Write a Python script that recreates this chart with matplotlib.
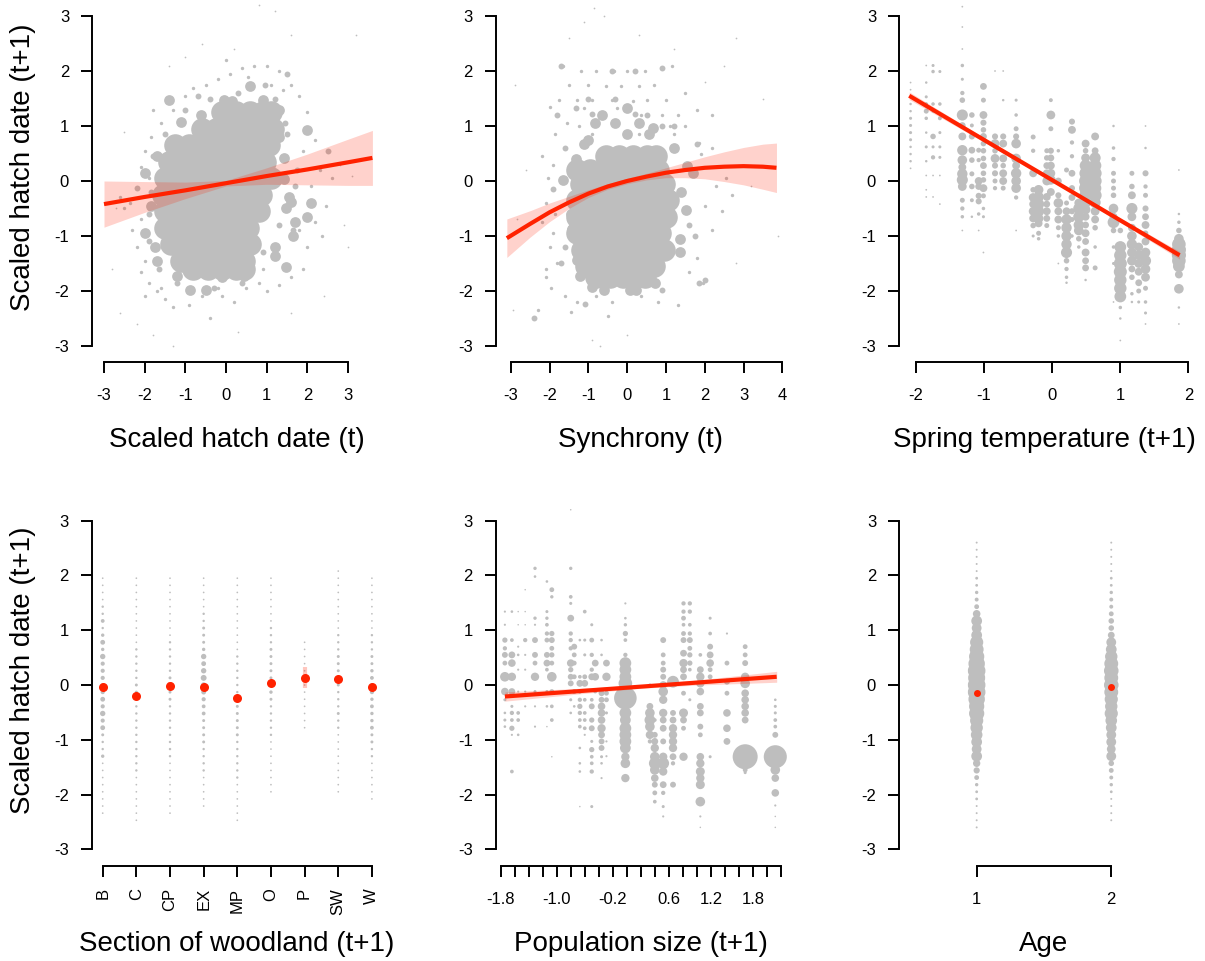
import numpy as np
import matplotlib
matplotlib.use('Agg')
import matplotlib.pyplot as plt

plt.rcParams['font.family'] = ['Liberation Sans', 'DejaVu Sans']

GREY = '#BEBEBE'
RED = '#FF2200'

# ---------------- panel A: hatch date (t) ----------------
a_core = [(-0.1, 1.25), (0.25, 1.25), (0.6, 1.25), (0.9, 1.25), (1.1, 1.25),
          (-0.6, 0.95), (-0.25, 0.95), (0.1, 0.95), (0.45, 0.95), (0.8, 0.95), (1.15, 0.95),
          (-1.25, 0.65), (-0.9, 0.65), (-0.55, 0.65), (-0.2, 0.65), (0.15, 0.65), (0.5, 0.65), (0.8, 0.65), (1.05, 0.65),
          (-1.4, 0.35), (-1.05, 0.35), (-0.7, 0.35), (-0.35, 0.35), (0.0, 0.35), (0.35, 0.35), (0.7, 0.35), (0.95, 0.35),
          (-1.5, 0.05), (-1.15, 0.05), (-0.8, 0.05), (-0.45, 0.05), (-0.1, 0.05), (0.25, 0.05), (0.6, 0.05), (0.95, 0.05), (1.1, 0.05),
          (-1.55, -0.25), (-1.2, -0.25), (-0.85, -0.25), (-0.5, -0.25), (-0.15, -0.25), (0.2, -0.25), (0.55, -0.25), (0.85, -0.25),
          (-1.5, -0.55), (-1.15, -0.55), (-0.8, -0.55), (-0.45, -0.55), (-0.1, -0.55), (0.25, -0.55), (0.55, -0.55), (0.8, -0.55),
          (-1.5, -0.85), (-1.15, -0.85), (-0.8, -0.85), (-0.45, -0.85), (-0.1, -0.85), (0.25, -0.85), (0.55, -0.85),
          (-1.35, -1.15), (-1.0, -1.15), (-0.65, -1.15), (-0.3, -1.15), (0.05, -1.15), (0.4, -1.15), (0.6, -1.15),
          (-1.1, -1.45), (-0.75, -1.45), (-0.4, -1.45), (-0.05, -1.45), (0.3, -1.45), (0.45, -1.45),
          (-0.8, -1.6), (-0.45, -1.6), (-0.1, -1.6), (0.25, -1.6), (0.45, -1.6)]
a_mid = [(-1.99, 0.14), (-1.99, -0.94), (1.98, -0.65), (2.1, -0.4), (1.6, -0.38), (1.47, -0.5),
         (1.2, -1.37), (1.98, 0.93), (1.43, 0.42), (1.43, 0.03), (-1.1, 1.08), (-1.39, 1.48),
         (-0.88, -1.98), (-0.48, -1.98), (-0.09, -1.75), (0.44, -1.72), (-1.7, -1.45), (-1.2, -1.72),
         (1.2, -1.2), (1.47, -1.57), (0.6, 1.72), (-0.05, 1.48), (-0.62, 1.2), (0.9, 1.48), (1.3, 1.3),
         (1.55, -0.3), (-1.85, -0.45), (-1.7, 0.45), (1.3, 0.8), (-1.75, -1.2), (1.7, -0.75),
         (0.15, 1.45), (1.65, -1.0)]
a_small = [(-1.8, 0.45), (-1.85, -0.2), (-1.9, -0.6), (-1.9, -1.1), (-1.65, -1.6), (-1.2, -1.85),
           (0.4, -1.85), (0.9, -1.3), (1.3, -0.8), (1.65, -0.9), (1.5, 0.85), (1.45, 1.05), (1.2, 1.5),
           (0.3, 1.6), (-0.4, 1.5), (-1.0, 1.3), (-1.5, 0.85), (1.75, 0.2), (1.7, -0.1), (-0.3, -1.95),
           (-0.7, 1.55), (0.95, 1.75), (2.5, 0.55), (1.5, 1.95), (-2.2, -0.12)]
a_dots = [(-2.35, -0.4), (-2.5, -0.5), (-2.1, -0.7), (-2.3, -0.9), (-2.2, -1.2), (-2.0, -1.45),
          (-2.1, -1.65), (-1.9, -1.85), (-1.7, -2.0), (-1.5, -2.15), (-1.3, -2.3), (-0.9, -2.25),
          (-0.6, -2.1), (-0.4, -2.5), (-0.1, -2.1), (0.2, -2.2), (0.5, -1.95), (0.8, -1.85), (1.0, -2.0),
          (1.3, -1.9), (1.6, -1.75), (1.9, -1.6), (2.0, -1.2), (2.2, -0.75), (2.45, -0.45), (2.6, 0.05),
          (2.3, 0.2), (2.2, 0.75), (2.0, 1.25), (1.8, 1.55), (1.6, 1.75), (1.3, 2.0), (1.0, 2.1),
          (0.7, 2.1), (0.4, 2.05), (0.1, 1.95), (-0.2, 1.85), (-0.5, 1.75), (-0.8, 1.7), (-1.0, 1.55),
          (-1.3, 1.3), (-1.6, 1.05), (-1.85, 0.8), (-2.0, 0.55), (-2.1, 0.25), (-1.9, 0.05), (-1.8, 1.3),
          (-2.0, -2.1), (0.0, 2.2), (0.55, 1.9), (1.1, 1.75), (1.9, 0.55), (2.1, -0.1), (1.8, -0.9),
          (-1.6, -1.95), (-0.2, -1.95), (0.9, -1.6), (1.4, 1.65), (-2.6, -0.3), (2.35, -1.0)]
a_tiny = [(-2.8, -1.6), (-2.7, -0.5), (-2.6, -2.4), (-2.2, -2.6), (-1.8, -2.8), (-1.3, -3.0),
          (0.3, -2.75), (1.6, -2.4), (2.4, -2.1), (3.0, -1.2), (3.1, 0.1), (3.2, 2.65), (1.6, 2.65),
          (1.2, 3.1), (0.8, 3.2), (0.2, 2.4), (-0.6, 2.5), (2.8, 0.3), (-2.5, 0.9), (2.9, -0.8),
          (-1.4, 2.1), (-1.0, 2.25)]
a_fit_x = [-3.0, -2.0, -1.0, 0.0, 1.0, 2.0, 3.0, 3.6]
a_fit_y = [-0.42, -0.29, -0.17, -0.04, 0.09, 0.21, 0.34, 0.42]
a_fit_lo = [-0.84, -0.57, -0.32, -0.09, -0.06, -0.07, -0.08, -0.08]
a_fit_hi = [0.0, -0.01, -0.02, 0.01, 0.24, 0.49, 0.76, 0.92]

# ---------------- panel B: synchrony (t) ----------------
b_core = [(-0.55, 0.45), (-0.2, 0.45), (0.15, 0.45), (0.5, 0.45), (0.75, 0.45),
          (-1.3, 0.2), (-0.95, 0.2), (-0.6, 0.2), (-0.25, 0.2), (0.1, 0.2), (0.45, 0.2), (0.8, 0.2),
          (-1.2, -0.05), (-0.85, -0.05), (-0.5, -0.05), (-0.15, -0.05), (0.2, -0.05), (0.55, -0.05), (0.95, -0.05),
          (-1.3, -0.35), (-0.95, -0.35), (-0.6, -0.35), (-0.25, -0.35), (0.1, -0.35), (0.45, -0.35), (0.8, -0.35), (1.05, -0.35),
          (-1.3, -0.65), (-0.95, -0.65), (-0.6, -0.65), (-0.25, -0.65), (0.1, -0.65), (0.45, -0.65), (0.8, -0.65), (1.0, -0.65),
          (-1.3, -0.95), (-0.95, -0.95), (-0.6, -0.95), (-0.25, -0.95), (0.1, -0.95), (0.45, -0.95), (0.85, -0.95),
          (-1.15, -1.25), (-0.8, -1.25), (-0.45, -1.25), (-0.1, -1.25), (0.25, -1.25), (0.6, -1.25), (0.95, -1.25),
          (-1.05, -1.55), (-0.7, -1.55), (-0.35, -1.55), (0.0, -1.55), (0.35, -1.55), (0.7, -1.55),
          (-0.8, -1.75), (-0.45, -1.75), (-0.1, -1.75), (0.25, -1.75), (0.45, -1.75)]
b_mid = [(-0.65, 1.2), (0.0, 1.32), (-0.82, 1.06), (-1.12, 0.68), (0.0, 0.85), (0.56, 0.85),
         (0.67, 0.97), (-1.31, 0.4), (-1.64, 0.02), (-1.42, -0.88), (1.53, -0.52), (1.37, -1.3),
         (1.37, -1.05), (1.7, 0.14), (1.55, 0.27), (-0.59, -1.98), (-0.91, -1.93), (0.08, -1.98),
         (0.24, -1.98), (0.73, -1.85), (-1.22, -1.72), (-1.28, -1.43), (-1.45, -0.6), (1.4, -0.2),
         (1.2, 0.6), (-1.0, 0.75), (-0.3, 1.05), (0.3, 1.05)]
b_small = [(-1.8, 1.2), (-1.31, 1.32), (-1.08, -2.24), (-2.4, -2.5), (0.89, -1.98), (1.85, -1.85),
           (1.8, 0.67), (1.6, -0.8), (1.75, -1.0), (-1.6, -1.2), (-1.7, -1.5), (-1.6, 0.6),
           (-0.3, 1.5), (0.5, 1.2), (-1.0, 1.5), (0.9, 1.0), (0.2, 2.0), (-0.4, 2.0), (2.0, -1.8),
           (-1.7, 2.1), (0.9, 2.05), (-0.9, 1.22), (0.2, 1.22), (1.2, 1.0), (-1.9, -0.15)]
b_dots = [(-1.65, 2.1), (-1.2, 2.0), (-0.8, 2.0), (-0.35, 2.0), (0.0, 2.0), (0.45, 2.0), (1.15, 2.1),
          (-1.5, 1.75), (-1.0, 1.75), (-0.55, 1.72), (-0.15, 1.72), (0.3, 1.72), (0.7, 1.75), (1.5, 1.6),
          (-1.75, 1.48), (-1.3, 1.48), (-0.9, 1.48), (-0.4, 1.48), (0.15, 1.45), (0.5, 1.48), (1.0, 1.48),
          (1.8, 1.3), (-2.0, 1.35), (-1.1, 1.32), (-0.25, 1.32), (0.35, 1.2), (0.9, 1.2), (1.3, 1.2),
          (2.2, 1.2), (-1.55, 1.05), (-1.25, 1.0), (-0.4, 1.05), (0.25, 1.05), (1.1, 1.0), (1.5, 1.0),
          (-1.85, 0.85), (-0.9, 0.85), (0.3, 0.85), (1.2, 0.85), (1.85, 0.7), (2.2, 0.6), (-2.2, 0.45),
          (-1.9, 0.3), (-2.05, 0.05), (-2.1, -0.4), (-1.85, -0.6), (-2.2, -0.75), (-1.9, -0.95),
          (-2.0, -1.2), (-1.8, -1.5), (-2.1, -1.6), (-2.1, -1.75), (-1.95, -1.95), (-1.6, -2.1),
          (-1.3, -2.2), (-0.8, -2.1), (-0.4, -2.2), (0.35, -2.1), (0.8, -2.2), (1.3, -2.25),
          (1.6, -1.65), (1.8, -1.4), (1.95, -1.85), (2.2, -0.9), (2.45, -0.55), (2.0, -0.45),
          (2.3, -0.1), (2.55, 0.05), (2.7, -0.25), (1.9, 0.5), (-2.3, -2.35), (-1.45, -2.38), (-0.5, -2.45)]
b_tiny = [(-2.9, 1.75), (-2.85, -0.7), (-2.95, -2.35), (-1.1, 2.9), (-0.6, 3.0), (-0.85, 3.15),
          (-1.5, 2.6), (0.3, 2.65), (1.2, 2.4), (2.8, 2.6), (2.5, 2.1), (3.5, 1.5), (3.9, -1.0),
          (3.2, -0.1), (2.8, -1.5), (0.0, -2.8), (-0.9, -2.9), (-0.7, -3.0), (2.0, 1.8), (-2.6, 0.2)]
b_fit_x = [-3.1, -2.5, -2.0, -1.5, -1.0, -0.5, 0.0, 0.5, 1.0, 1.5, 2.0, 2.5, 3.0, 3.5, 3.85]
b_fit_y = [-1.04, -0.78, -0.57, -0.39, -0.23, -0.1, 0.0, 0.08, 0.15, 0.2, 0.24, 0.26, 0.27, 0.26, 0.24]
b_fit_half = [0.35, 0.24, 0.17, 0.11, 0.07, 0.05, 0.05, 0.06, 0.09, 0.14, 0.2, 0.27, 0.34, 0.41, 0.45]

# ---------------- panel C: spring temperature (t+1) ----------------
c_cols = [
    (-2.08, [(1.4, 2), (1.27, 2), (1.14, 3), (1.01, 3), (0.88, 3), (0.75, 3), (0.62, 2), (0.49, 2), (0.36, 2), (0.23, 1), (1.66, 1), (1.79, 1)]),
    (-1.85, [(2.1, 1), (1.79, 2), (1.53, 3), (1.4, 4), (1.27, 8), (1.14, 4), (0.88, 2), (0.62, 3), (0.36, 2), (0.1, 1), (-0.16, 1), (-0.29, 1)]),
    (-1.75, [(2.1, 3), (1.99, 4), (1.4, 4), (1.27, 3), (0.81, 10), (0.62, 3), (0.43, 6), (0.1, 1), (-0.29, 1)]),
    (-1.65, [(1.99, 3), (1.4, 4), (1.14, 5), (0.88, 3), (0.62, 3), (0.43, 3), (0.1, 1), (-0.42, 1)]),
    (-1.32, [(3.17, 1), (2.8, 1), (2.4, 1), (2.1, 4), (1.85, 3), (1.6, 6), (1.47, 10), (1.2, 40), (1.01, 14), (0.81, 20),
             (0.56, 35), (0.38, 30), (0.25, 20), (0.13, 35), (0.02, 40), (-0.1, 25), (-0.35, 8), (-0.5, 6), (-0.65, 4), (-0.9, 1)]),
    (-1.18, [(1.2, 10), (1.01, 5), (0.81, 12), (0.56, 15), (0.38, 10), (0.13, 8), (-0.1, 10), (-0.35, 5), (-0.65, 2)]),
    (-1.08, [(0.56, 8), (0.38, 6), (0.0, 20), (-0.1, 15), (-0.27, 12), (-0.37, 12), (-0.6, 4), (-0.9, 1)]),
    (-1.01, [(1.72, 15), (1.47, 8), (1.2, 20), (1.06, 12), (0.93, 10), (0.81, 15), (0.68, 10), (0.55, 10), (0.41, 10),
             (0.28, 15), (0.14, 10), (0.02, 10), (-0.13, 20), (-0.27, 8), (-0.5, 4), (-0.65, 3), (-1.3, 1)]),
    (-0.84, [(2.0, 1), (0.81, 12), (0.68, 25), (0.55, 10), (0.41, 25), (0.28, 12), (0.14, 12), (0.0, 8), (-0.13, 6)]),
    (-0.72, [(2.0, 1), (1.47, 2), (0.81, 12), (0.68, 20), (0.41, 20), (0.28, 10), (0.14, 20), (0.0, 20), (-0.13, 8)]),
    (-0.53, [(1.47, 3), (1.2, 4), (0.95, 8), (0.81, 12), (0.68, 30), (0.41, 30), (0.28, 20), (0.14, 35), (0.0, 30), (-0.13, 30), (-0.3, 6), (-0.9, 1)]),
    (-0.28, [(0.8, 8), (0.55, 6), (0.14, 20), (-0.16, 10), (-0.3, 25), (-0.42, 20), (-0.55, 25), (-0.68, 20), (-0.81, 10), (-1.0, 3)]),
    (-0.2, [(-0.16, 30), (-0.29, 35), (-0.42, 40), (-0.55, 40), (-0.68, 30), (-0.77, 20), (-0.95, 8), (-1.05, 4)]),
    (-0.08, [(0.55, 8), (0.42, 10), (0.28, 15), (0.14, 20), (0.0, 25), (-0.29, 20), (-0.42, 15), (-0.55, 20), (-0.68, 15), (-0.81, 8)]),
    (-0.02, [(1.47, 5), (1.2, 25), (0.95, 8), (0.55, 12), (0.42, 15), (0.28, 20), (0.14, 25), (0.02, 30), (-0.2, 20)]),
    (0.09, [(0.55, 4), (0.0, 15), (-0.26, 12), (-0.4, 30), (-0.55, 20), (-0.7, 20), (-0.85, 8), (-1.0, 4), (-1.5, 1)]),
    (0.21, [(0.2, 8), (-0.4, 8), (-0.55, 20), (-0.7, 35), (-0.85, 35), (-1.0, 35), (-1.15, 35), (-1.3, 40), (-1.45, 10), (-1.6, 6), (-1.75, 4), (-1.85, 2)]),
    (0.29, [(1.08, 12), (0.93, 20), (0.7, 6), (0.45, 6), (0.14, 15), (-0.13, 12), (-0.3, 15), (-0.55, 12), (-0.7, 8), (-1.0, 4)]),
    (0.39, [(-0.4, 25), (-0.5, 40), (-0.65, 40), (-0.8, 35), (-0.9, 30), (-1.05, 10), (-1.2, 4)]),
    (0.49, [(0.68, 20), (0.55, 10), (0.42, 25), (0.28, 45), (0.14, 50), (0.0, 55), (-0.13, 55), (-0.26, 50), (-0.39, 40), (-0.52, 30),
            (-0.65, 20), (-0.8, 15), (-0.95, 20), (-1.1, 15), (-1.3, 20), (-1.45, 15), (-1.58, 15), (-1.8, 2)]),
    (0.63, [(0.81, 20), (0.55, 15), (0.42, 40), (0.28, 50), (0.14, 55), (0.0, 55), (-0.13, 50), (-0.26, 55), (-0.39, 40), (-0.55, 25),
            (-0.7, 20), (-0.85, 10), (-1.2, 4), (-1.58, 8)]),
    (0.9, [(1.0, 2), (0.6, 4), (0.4, 6), (0.14, 8), (0.0, 8), (-0.13, 8), (-0.26, 10), (-0.5, 30), (-0.65, 20), (-0.75, 45), (-0.9, 10), (-1.2, 4), (-1.5, 3), (-2.2, 1)]),
    (1.0, [(-0.9, 10), (-1.2, 45), (-1.35, 50), (-1.5, 55), (-1.65, 55), (-1.8, 50), (-1.95, 50), (-2.1, 45), (-2.3, 4), (-2.5, 2), (-2.9, 1)]),
    (1.17, [(0.14, 8), (-0.1, 10), (-0.26, 20), (-0.5, 40), (-0.65, 25), (-0.85, 20), (-1.0, 30), (-1.15, 35), (-1.3, 30), (-1.45, 30),
            (-1.6, 15), (-1.75, 10), (-2.05, 4), (-2.2, 2)]),
    (1.27, [(-1.2, 25), (-1.35, 30), (-1.5, 25), (-1.65, 20), (-1.85, 15), (-2.0, 8), (-2.2, 3)]),
    (1.37, [(1.0, 1), (0.6, 2), (0.14, 12), (-0.1, 6), (-0.26, 8), (-0.5, 12), (-0.65, 15), (-0.8, 20), (-0.95, 10), (-1.1, 20),
            (-1.3, 30), (-1.45, 40), (-1.6, 30), (-1.75, 25), (-1.95, 8), (-2.2, 4), (-2.4, 3), (-2.6, 1)]),
    (1.86, [(0.2, 1), (-0.6, 2), (-0.75, 4), (-0.9, 10), (-1.05, 30), (-1.15, 60), (-1.25, 65), (-1.35, 65), (-1.45, 60), (-1.55, 45),
            (-1.7, 20), (-1.96, 30), (-2.3, 2), (-2.6, 1)]),
]
c_fit_x = [-2.1, -1.0, 0.0, 1.0, 1.87]
c_fit_y = [1.55, 0.746, 0.016, -0.715, -1.35]
c_fit_half = [0.07, 0.04, 0.025, 0.04, 0.07]

# ---------------- panel D: section of woodland ----------------
levels = [-2.6, -2.47, -2.34, -2.21, -2.08, -1.95, -1.82, -1.69, -1.56, -1.43, -1.3, -1.17, -1.04, -0.91,
          -0.78, -0.65, -0.52, -0.39, -0.26, -0.13, 0.0, 0.13, 0.26, 0.39, 0.52, 0.65, 0.78, 0.91, 1.04,
          1.17, 1.3, 1.43, 1.56, 1.69, 1.82, 1.95, 2.08, 2.21, 2.34, 2.47, 2.6]
sections = ['B', 'C', 'CP', 'EX', 'MP', 'O', 'P', 'SW', 'W']
section_counts = [
    [0, 0, 1, 1, 1, 1, 1, 1, 1, 1, 4, 2, 2, 3, 8, 6, 10, 6, 8, 6, 5, 6, 6, 6, 10, 4, 8, 4, 2, 5, 2, 2, 1, 1, 1, 1, 0, 0, 0, 0, 0],
    [0, 1, 1, 1, 1, 1, 1, 1, 2, 2, 2, 2, 2, 2, 2, 2, 2, 2, 2, 3, 3, 2, 2, 2, 2, 2, 1, 1, 1, 1, 1, 1, 1, 1, 1, 1, 0, 0, 0, 0, 0],
    [0, 0, 1, 1, 1, 1, 1, 1, 1, 1, 2, 2, 2, 2, 2, 2, 2, 2, 3, 3, 3, 3, 2, 2, 2, 2, 2, 1, 1, 1, 1, 1, 1, 1, 1, 1, 0, 0, 0, 0, 0],
    [0, 0, 0, 1, 1, 1, 1, 1, 2, 2, 2, 2, 3, 3, 3, 3, 5, 5, 6, 8, 10, 12, 10, 8, 10, 4, 3, 3, 3, 2, 2, 1, 1, 1, 1, 1, 0, 0, 0, 0, 0],
    [0, 1, 1, 1, 1, 1, 1, 2, 2, 2, 2, 2, 2, 3, 3, 3, 3, 3, 3, 2, 2, 2, 2, 2, 2, 1, 1, 1, 1, 1, 1, 1, 1, 1, 1, 1, 0, 0, 0, 0, 0],
    [0, 0, 0, 0, 0, 1, 1, 1, 1, 1, 1, 1, 1, 2, 2, 2, 2, 2, 3, 4, 4, 3, 3, 3, 3, 3, 2, 2, 2, 1, 1, 1, 1, 1, 1, 1, 0, 0, 0, 0, 0],
    [0, 0, 0, 0, 0, 0, 0, 0, 0, 0, 0, 0, 0, 0, 1, 1, 1, 1, 1, 1, 1, 1, 1, 1, 1, 1, 1, 0, 0, 0, 0, 0, 0, 0, 0, 0, 0, 0, 0, 0, 0],
    [0, 0, 0, 0, 0, 1, 1, 1, 1, 1, 1, 1, 1, 1, 2, 2, 3, 2, 2, 2, 3, 2, 3, 3, 3, 2, 2, 2, 1, 1, 1, 1, 1, 1, 1, 1, 1, 0, 0, 0, 0],
    [0, 0, 0, 0, 1, 1, 1, 1, 1, 1, 2, 2, 3, 3, 5, 4, 4, 5, 4, 6, 5, 5, 4, 3, 3, 2, 2, 2, 1, 1, 1, 1, 1, 1, 1, 1, 0, 0, 0, 0, 0],
]
section_est = [-0.04, -0.2, -0.01, -0.04, -0.24, 0.04, 0.13, 0.11, -0.03]
section_lo = [-0.09, -0.25, -0.07, -0.08, -0.29, -0.01, -0.06, 0.05, -0.08]
section_hi = [0.01, -0.15, 0.05, 0.0, -0.19, 0.09, 0.33, 0.17, 0.02]

# ---------------- panel E: population size (t+1) ----------------
e_cols = [
    (-1.74, [(1.34, 2), (1.1, 2), (0.82, 12), (0.67, 8), (0.55, 15), (0.4, 10), (0.15, 40), (-0.12, 25), (-0.27, 4), (-0.51, 3), (-0.64, 4), (-0.76, 3)]),
    (-1.64, [(1.34, 3), (0.82, 6), (0.55, 20), (0.4, 25), (0.15, 30), (-0.12, 20), (-0.39, 4), (-0.51, 8), (-0.64, 6), (-0.79, 12), (-0.91, 2), (-1.58, 6)]),
    (-1.55, [(1.34, 1), (1.1, 1), (0.7, 2), (0.55, 3), (0.28, 2), (-0.12, 2), (-0.51, 6), (-0.64, 6), (-0.91, 3)]),
    (-1.45, [(1.74, 1), (1.34, 1), (1.1, 1), (0.82, 8), (0.55, 2), (0.28, 2), (-0.12, 2), (-0.39, 2)]),
    (-1.31, [(2.13, 5), (1.98, 3), (1.22, 5), (1.1, 2), (0.82, 15), (0.55, 15), (0.4, 10), (0.15, 30), (-0.12, 4), (-0.39, 2), (-0.76, 2)]),
    (-1.14, [(1.89, 3), (1.34, 4), (1.22, 5), (1.1, 6), (0.94, 8), (0.82, 10), (0.55, 15), (0.4, 20), (0.28, 6), (-0.12, 4), (-0.39, 3), (-0.76, 1)]),
    (-1.07, [(1.74, 10), (1.61, 5), (0.94, 12), (0.82, 15), (0.67, 10), (0.55, 12), (0.4, 10), (0.15, 40), (-0.12, 10), (-0.39, 6), (-0.64, 6), (-1.31, 1)]),
    (-0.8, [(3.2, 1), (2.13, 5), (1.61, 6), (1.49, 4), (1.22, 20), (0.94, 8), (0.82, 8), (0.67, 8), (0.4, 25), (0.28, 12), (0.15, 15), (0.03, 15), (-0.27, 4), (-0.51, 3)]),
    (-0.75, [(0.7, 15), (0.55, 10), (0.4, 10), (0.15, 10), (-0.12, 10), (-0.39, 3)]),
    (-0.67, [(0.82, 3), (0.15, 6), (0.03, 20), (-0.12, 8), (-0.27, 8), (-0.39, 12), (-0.51, 8), (-0.64, 6), (-0.76, 6), (-1.15, 3), (-1.43, 3), (-1.58, 3), (-2.22, 1)]),
    (-0.6, [(1.34, 6), (0.82, 4), (0.55, 4), (0.15, 10), (0.03, 20), (-0.27, 6), (-0.51, 6), (-0.64, 6), (-0.79, 6), (-0.91, 2)]),
    (-0.5, [(1.1, 4), (0.82, 10), (0.55, 8), (0.28, 8), (0.15, 20), (-0.27, 6), (-0.39, 15), (-0.64, 12), (-0.79, 15), (-1.03, 4),
            (-1.18, 12), (-1.31, 6), (-1.43, 6), (-1.58, 8), (-2.22, 4)]),
    (-0.45, [(0.4, 20), (0.15, 25), (-0.12, 6)]),
    (-0.36, [(0.82, 3), (0.55, 3), (-0.15, 15), (-0.27, 15), (-0.39, 25), (-0.51, 25), (-0.64, 25), (-0.79, 30), (-0.91, 20), (-1.03, 15),
             (-1.15, 15), (-1.31, 4), (-1.43, 3), (-1.7, 2)]),
    (-0.29, [(0.4, 20), (0.15, 30), (-0.15, 10), (-0.27, 10), (-0.51, 4), (-1.03, 2), (-1.3, 2)]),
    (-0.02, [(1.49, 2), (1.22, 3), (1.1, 5), (0.94, 12), (0.82, 6), (0.55, 8), (0.4, 60), (0.28, 60), (0.15, 60), (0.03, 80), (-0.24, 220),
             (-0.51, 60), (-0.64, 50), (-0.79, 60), (-0.91, 60), (-1.03, 60), (-1.15, 50), (-1.31, 30), (-1.43, 40), (-1.7, 30)]),
    (0.33, [(0.0, 4), (-0.39, 20), (-0.51, 40), (-0.64, 50), (-0.76, 40), (-0.91, 30), (-1.03, 8)]),
    (0.4, [(-0.64, 6), (-0.91, 15), (-1.03, 20), (-1.15, 30), (-1.31, 40), (-1.43, 60), (-1.55, 40), (-1.7, 25), (-1.82, 15), (-1.97, 10), (-2.13, 6)]),
    (0.52, [(0.82, 15), (0.55, 10), (0.4, 10), (0.28, 15), (0.15, 15), (0.0, 25), (-0.12, 40), (-0.27, 30), (-0.51, 30), (-0.64, 20),
            (-0.79, 20), (-1.03, 15), (-1.31, 30), (-1.43, 60), (-1.58, 30), (-1.82, 20), (-1.97, 8), (-2.22, 4), (-2.4, 2)]),
    (0.66, [(0.06, 60), (-0.51, 15), (-0.64, 20), (-0.79, 30), (-0.91, 30), (-1.03, 30), (-1.15, 30), (-1.31, 20), (-1.43, 8), (-1.82, 15)]),
    (0.81, [(1.49, 8), (1.34, 8), (1.22, 10), (1.1, 6), (0.94, 10), (0.82, 15), (0.58, 20), (0.4, 30), (0.28, 20), (0.15, 20), (-0.15, 10),
            (-0.51, 35), (-0.64, 20), (-0.79, 10), (-1.31, 30)]),
    (0.9, [(1.49, 8), (1.34, 8), (1.1, 6), (0.94, 8), (0.82, 15), (0.67, 10), (0.55, 12), (0.4, 12), (0.28, 6), (-0.27, 4)]),
    (1.05, [(0.55, 6), (0.28, 20), (0.15, 30), (0.03, 30), (-0.12, 25), (-0.39, 20), (-0.51, 20), (-0.76, 15), (-0.91, 10), (-1.31, 25),
            (-1.43, 30), (-1.58, 35), (-1.7, 30), (-1.82, 35), (-2.13, 40), (-2.4, 2), (-2.6, 1)]),
    (1.19, [(1.22, 4), (0.94, 6), (0.7, 15), (0.55, 20), (0.4, 25), (0.28, 10), (0.15, 10), (-1.31, 4)]),
    (1.43, [(0.94, 2), (0.4, 10), (0.06, 15), (-0.15, 10), (-0.51, 25), (-0.79, 25), (-1.03, 20)]),
    (1.69, [(0.7, 10), (0.55, 10), (0.4, 15), (0.15, 30), (0.03, 40), (-0.15, 25), (-0.27, 25), (-0.39, 25), (-0.51, 25), (-0.64, 20),
            (-1.31, 270), (-1.55, 10), (-1.6, 4)]),
    (2.12, [(-0.27, 3), (-0.39, 4), (-0.51, 4), (-0.64, 6), (-0.76, 6), (-0.91, 15), (-1.31, 230), (-1.55, 40), (-1.7, 25), (-1.97, 25),
            (-2.2, 2), (-2.4, 1), (-2.6, 1)]),
]
e_ticks = [-1.8, -1.6, -1.4, -1.2, -1.0, -0.8, -0.6, -0.4, -0.2, 0.0, 0.2, 0.4, 0.6, 0.8, 1.0, 1.2, 1.4, 1.6, 1.8, 2.0, 2.2]
e_ticklabels = ['-1.8', '', '', '', '-1.0', '', '', '', '-0.2', '', '', '', '0.6', '', '', '1.2', '', '', '1.8', '', '']
e_fit_x = [-1.74, -0.5, 0.2, 1.0, 2.14]
e_fit_y = [-0.21, -0.095, -0.03, 0.044, 0.15]
e_fit_half = [0.085, 0.045, 0.03, 0.045, 0.1]

# ---------------- panel F: age ----------------
ages = [1, 2]
age_counts = [
    [1, 1, 1, 1, 2, 2, 3, 6, 10, 14, 30, 25, 30, 35, 40, 45, 60, 60, 70, 80, 80, 75, 80, 70, 60, 50, 45, 30, 25, 30, 15, 6, 4, 3, 2, 2, 1, 1, 1, 1, 1],
    [0, 1, 1, 1, 1, 2, 3, 4, 6, 8, 25, 20, 25, 25, 30, 35, 45, 40, 45, 50, 55, 50, 55, 50, 40, 30, 25, 12, 8, 8, 6, 4, 4, 3, 2, 2, 1, 1, 1, 1, 1],
]
age_est = [-0.15, -0.04]

W, H = 1205, 961
fig = plt.figure(figsize=(W / 100, H / 100), dpi=100)


def make_ax(left, right, top, bottom, xlim, ylim):
    ax = fig.add_axes([left / W, 1 - bottom / H, (right - left) / W, (bottom - top) / H])
    ax.set_xlim(*xlim)
    ax.set_ylim(*ylim)
    ax.patch.set_visible(False)
    return ax


def style(ax, xbounds, xticks, xlabels, xpad=11, rot=0):
    for s in ['top', 'right']:
        ax.spines[s].set_visible(False)
    for s in ['left', 'bottom']:
        ax.spines[s].set_linewidth(1.4)
    ax.spines['left'].set_bounds(-3, 3)
    ax.spines['bottom'].set_bounds(*xbounds)
    ax.set_yticks([-3, -2, -1, 0, 1, 2, 3])
    ax.set_yticklabels(['-3', '-2', '-1', '0', '1', '2', '3'])
    ax.set_xticks(xticks)
    ax.set_xticklabels(xlabels, rotation=rot)
    ax.tick_params(axis='both', direction='out', length=8, width=1.4, labelsize=12)
    ax.tick_params(axis='y', pad=8.5)
    ax.tick_params(axis='x', pad=xpad)


def pts(ax, group, n, k=1.2):
    ax.scatter([p[0] for p in group], [p[1] for p in group], s=k * n, c=GREY,
               linewidths=0, zorder=1, clip_on=False)


def cols(ax, columns, k=1.2):
    xs, ys, ns = [], [], []
    for x, col in columns:
        for y, n in col:
            xs.append(x)
            ys.append(y)
            ns.append(n)
    ax.scatter(xs, ys, s=k * np.array(ns), c=GREY, linewidths=0, zorder=1, clip_on=False)


def fit(ax, x, y, lo, hi):
    ax.fill_between(x, lo, hi, color=RED, alpha=0.2, linewidth=0, zorder=2)
    ax.plot(x, y, color=RED, lw=3, zorder=3, solid_capstyle='butt')


# A
ax = make_ax(92, 381, 0, 362, (-3.295, 3.811), (-3.291, 3.291))
pts(ax, a_tiny, 1, 1.5)
pts(ax, a_dots, 4, 1.5)
pts(ax, a_small, 12, 1.5)
pts(ax, a_mid, 40, 1.5)
pts(ax, a_core, 220)
fit(ax, a_fit_x, a_fit_y, a_fit_lo, a_fit_hi)
style(ax, (-3, 3), [-3, -2, -1, 0, 1, 2, 3], ['-3', '-2', '-1', '0', '1', '2', '3'])

# B
ax = make_ax(495.7, 792, 0, 362, (-3.387, 4.25), (-3.291, 3.291))
pts(ax, b_tiny, 1, 1.5)
pts(ax, b_dots, 4, 1.5)
pts(ax, b_small, 12, 1.5)
pts(ax, b_mid, 40, 1.5)
pts(ax, b_core, 220)
bh = np.array(b_fit_half)
fit(ax, b_fit_x, b_fit_y, np.array(b_fit_y) - bh, np.array(b_fit_y) + bh)
style(ax, (-3, 4), [-3, -2, -1, 0, 1, 2, 3, 4], ['-3', '-2', '-1', '0', '1', '2', '3', '4'])

# C
ax = make_ax(899, 1197, 0, 362, (-2.25, 2.126), (-3.291, 3.291))
cols(ax, c_cols, 1.6)
ch = np.array(c_fit_half)
fit(ax, c_fit_x, c_fit_y, np.array(c_fit_y) - ch, np.array(c_fit_y) + ch)
style(ax, (-2, 2), [-2, -1, 0, 1, 2], ['-2', '-1', '0', '1', '2'])

# D
ax = make_ax(91.7, 381, 504, 866, (0.673, 9.27), (-3.305, 3.305))
for i, counts in enumerate(section_counts):
    keep = [j for j, c in enumerate(counts) if c > 0]
    ax.scatter([i + 1] * len(keep), [levels[j] for j in keep],
               s=[1.5 * counts[j] for j in keep], c=GREY, linewidths=0, zorder=1)
xs = np.arange(1, len(sections) + 1)
ax.vlines(xs, section_lo, section_hi, color=RED, alpha=0.25, lw=3, zorder=2)
ax.plot(xs, section_est, 'o', color=RED, ms=6.5, mec='none', zorder=3)
style(ax, (1, 9), list(xs), sections, xpad=8, rot=90)

# E
ax = make_ax(495.7, 790, 504, 866, (-1.871, 2.33), (-3.305, 3.305))
cols(ax, e_cols, 1.2)
eh = np.array(e_fit_half)
fit(ax, e_fit_x, e_fit_y, np.array(e_fit_y) - eh, np.array(e_fit_y) + eh)
style(ax, (-1.8, 2.2), e_ticks, e_ticklabels)

# F
ax = make_ax(899, 1197, 504, 866, (0.423, 2.637), (-3.305, 3.305))
for a, counts in zip(ages, age_counts):
    keep = [j for j, c in enumerate(counts) if c > 0]
    ax.scatter([a] * len(keep), [levels[j] for j in keep],
               s=[2.0 * counts[j] for j in keep], c=GREY, linewidths=0, zorder=1)
ax.plot(ages, age_est, 'o', color=RED, ms=5, mec='none', zorder=3)
style(ax, (1, 2), ages, ['1', '2'])

# axis titles
fig.text(237 / W, 1 - 447 / H, 'Scaled hatch date (t)', ha='center', va='baseline', fontsize=20)
fig.text(641 / W, 1 - 447 / H, 'Synchrony (t)', ha='center', va='baseline', fontsize=20)
fig.text(1044 / W, 1 - 447 / H, 'Spring temperature (t+1)', ha='center', va='baseline', fontsize=20)
fig.text(237 / W, 1 - 951 / H, 'Section of woodland (t+1)', ha='center', va='baseline', fontsize=20)
fig.text(641 / W, 1 - 951 / H, 'Population size (t+1)', ha='center', va='baseline', fontsize=20)
fig.text(1044 / W, 1 - 951 / H, 'Age', ha='center', va='baseline', fontsize=20)
fig.text(23 / W, 1 - 167 / H, 'Scaled hatch date (t+1)', rotation=90, ha='center', va='center', fontsize=20)
fig.text(23 / W, 1 - 670 / H, 'Scaled hatch date (t+1)', rotation=90, ha='center', va='center', fontsize=20)

fig.savefig('out.png', dpi=100)
